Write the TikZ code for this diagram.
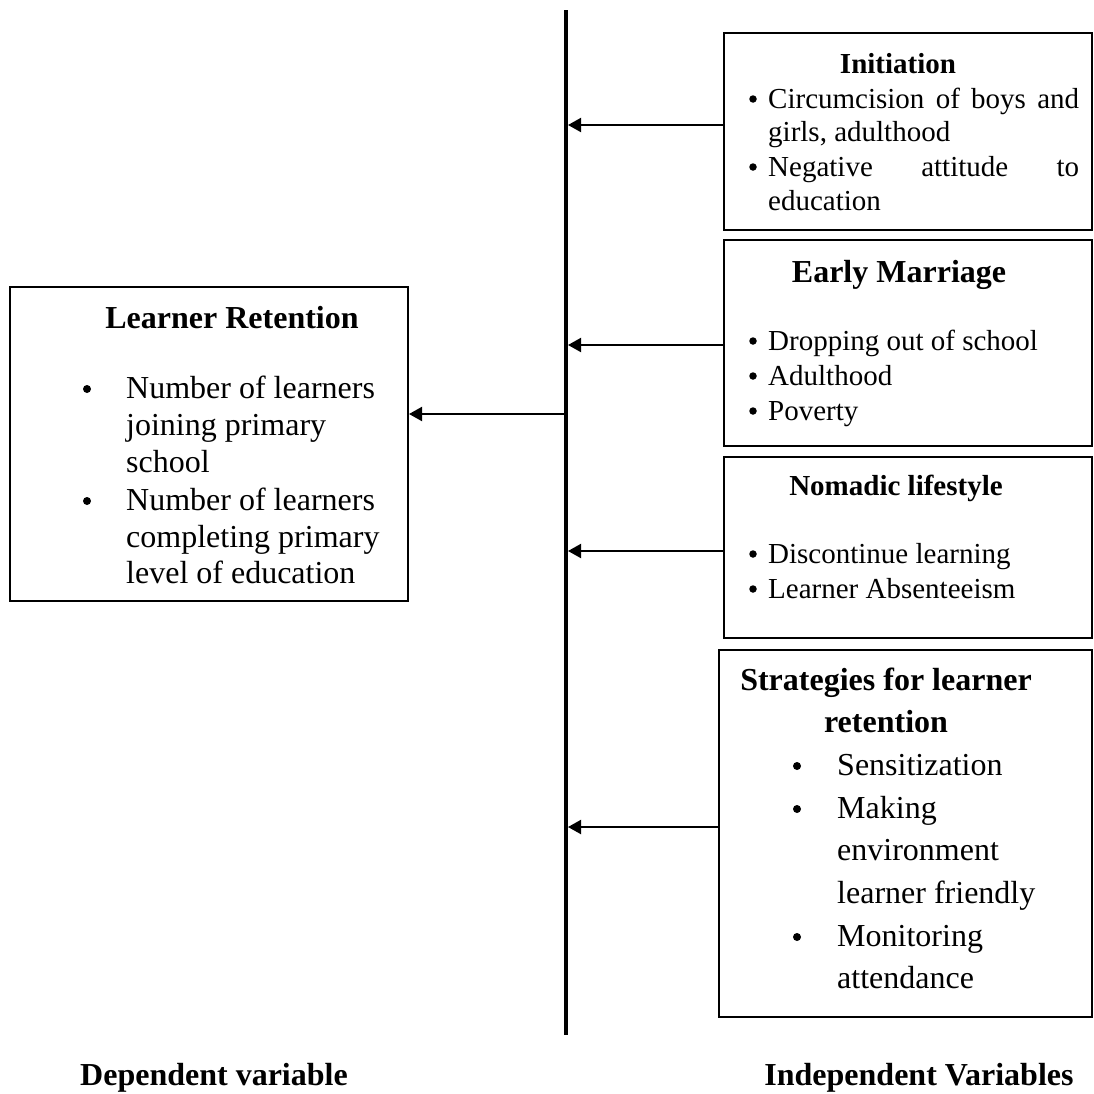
\documentclass[tikz,border=0pt]{standalone}
\usepackage{fontspec}
\setmainfont{Liberation Serif}
\usetikzlibrary{arrows.meta}
\begin{document}
\begin{tikzpicture}[x=1pt,y=-1pt,
  box/.style={draw,line width=2pt,inner sep=0pt},
  conn/.style={line width=2pt,-{Triangle[length=13pt,width=14pt]}},
  sm/.style={inner sep=0pt,font=\fontsize{29}{34}\selectfont},
  lg/.style={inner sep=0pt,font=\fontsize{32}{37}\selectfont},
  smb/.style={inner sep=0pt,font=\fontsize{29}{34}\selectfont\bfseries},
  lgb/.style={inner sep=0pt,font=\fontsize{32}{37}\selectfont\bfseries},
  ln/.style={anchor=base west},
  bl/.style={anchor=base},
  dot/.style={circle,fill,inner sep=0pt,minimum size=7.5pt},
]
\useasboundingbox (0,0) rectangle (1094,1093);
% boxes
\node[box,minimum width=368pt,minimum height=197pt] (ini) at (908,131.5) {};
\node[box,minimum width=368pt,minimum height=206pt] (early) at (908,343) {};
\node[box,minimum width=368pt,minimum height=181pt] (nomad) at (908,547.5) {};
\node[box,minimum width=373pt,minimum height=367pt] (strat) at (905.5,833.5) {};
\node[box,minimum width=398pt,minimum height=314pt] (lr) at (209,444) {};
% vertical line
\coordinate (vtop) at (566,10);
\coordinate (vbot) at (566,1035);
\draw[line width=4pt] (vtop) -- (vbot);
% arrows
\draw[conn] (ini.west |- 0,125) -- (568,125);
\draw[conn] (early.west |- 0,345) -- (568,345);
\draw[conn] (nomad.west |- 0,551) -- (568,551);
\draw[conn] (strat.west |- 0,827) -- (568,827);
\draw[conn] (564,414) -- (lr.east |- 0,414);
% Initiation
\node[smb,bl] (iniT) at (898,73) {Initiation};
\node[dot] (iniB1) at (753,99) {};
\node[sm,ln] (ini1) at (768,108) {\hbox to 311pt{Circumcision\hfill of\hfill boys\hfill and}};
\node[sm,ln] (ini2) at (768,141) {girls, adulthood};
\node[dot] (iniB2) at (753,167) {};
\node[sm,ln] (ini3) at (768,176) {\hbox to 311pt{Negative\hfill attitude\hfill to}};
\node[sm,ln] (ini4) at (768,210) {education};
% Early Marriage
\node[lgb,bl] (earT) at (899,282) {Early Marriage};
\node[dot] (earB1) at (753,341) {};
\node[sm,ln] (ear1) at (768,350) {Dropping out of school};
\node[dot] (earB2) at (753,376) {};
\node[sm,ln] (ear2) at (768,385) {Adulthood};
\node[dot] (earB3) at (753,411) {};
\node[sm,ln] (ear3) at (768,420) {Poverty};
% Nomadic
\node[smb,bl] (nomT) at (896,495) {Nomadic lifestyle};
\node[dot] (nomB1) at (753,554) {};
\node[sm,ln] (nom1) at (768,563) {Discontinue learning};
\node[dot] (nomB2) at (753,589) {};
\node[sm,ln] (nom2) at (768,598) {Learner Absenteeism};
% Strategies
\node[lgb,bl] (strT1) at (886,690) {Strategies for learner};
\node[lgb,bl] (strT2) at (886,732) {retention};
\node[dot,minimum size=8pt] (strB1) at (797,766) {};
\node[lg,ln] (str1) at (837,775) {Sensitization};
\node[dot,minimum size=8pt] (strB2) at (797,809) {};
\node[lg,ln] (str2) at (837,818) {Making};
\node[lg,ln] (str3) at (837,860) {environment};
\node[lg,ln] (str4) at (837,903) {learner friendly};
\node[dot,minimum size=8pt] (strB3) at (797,937) {};
\node[lg,ln] (str5) at (837,946) {Monitoring};
\node[lg,ln] (str6) at (837,988) {attendance};
% Learner Retention
\node[lgb,bl] (lrT) at (232,328) {Learner Retention};
\node[dot,minimum size=8pt] (lrB1) at (87,389) {};
\node[lg,ln] (lr1) at (126,398) {Number of learners};
\node[lg,ln] (lr2) at (126,435) {joining primary};
\node[lg,ln] (lr3) at (126,472) {school};
\node[dot,minimum size=8pt] (lrB2) at (87,501) {};
\node[lg,ln] (lr4) at (126,510) {Number of learners};
\node[lg,ln] (lr5) at (126,547) {completing primary};
\node[lg,ln] (lr6) at (126,583) {level of education};
% bottom labels
\node[lgb,bl] (dep) at (214,1085) {Dependent variable};
\node[lgb,bl] (indep) at (919,1085) {Independent Variables};
\end{tikzpicture}
\end{document}
